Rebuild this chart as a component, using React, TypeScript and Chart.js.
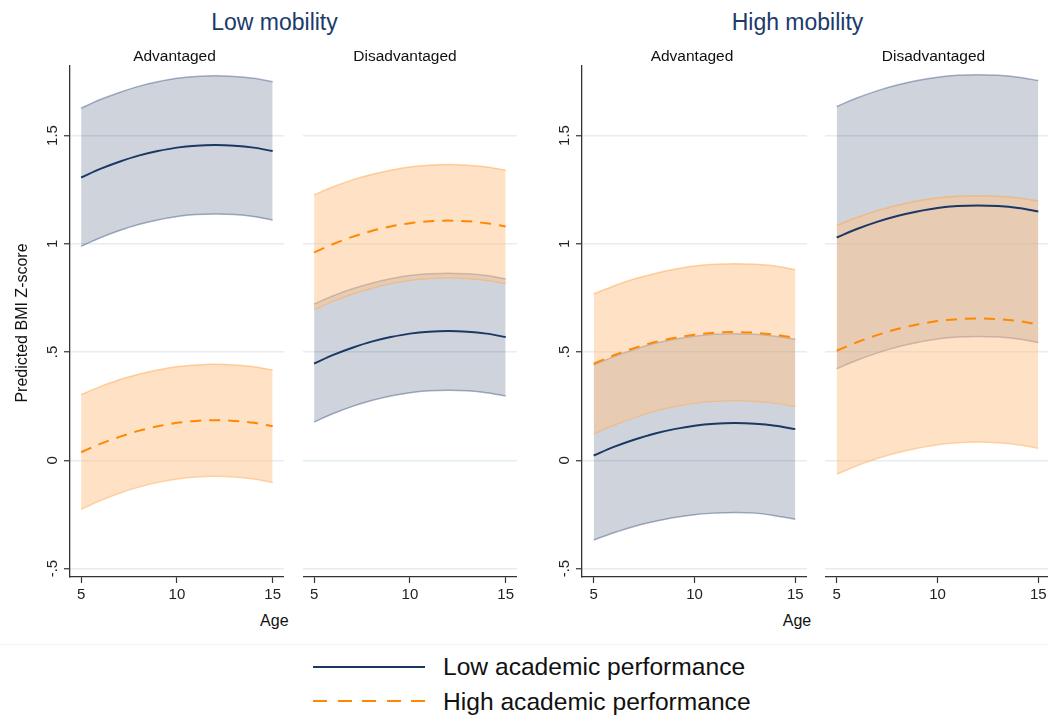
import React, { useEffect, useRef } from "react";
import { Chart, registerables } from "chart.js";

Chart.register(...registerables);

// ---------- data ----------
const AGES = [5, 6, 7, 8, 9, 10, 11, 12, 13, 14, 15];
const X_TICKS = [5, 10, 15];
const Y_TICKS = [-0.5, 0, 0.5, 1, 1.5];
const Y_TICK_LABELS = ["-.5", "0", ".5", "1", "1.5"];

const GROUP_TITLES = ["Low mobility", "High mobility"];
const PANEL_TITLES = ["Advantaged", "Disadvantaged", "Advantaged", "Disadvantaged"];
const SERIES_NAMES = ["Low academic performance", "High academic performance"];
const X_TITLE = "Age";
const Y_TITLE = "Predicted BMI Z-score";

// Low mobility – Advantaged
const LM_ADV_LOW_FIT = [1.306, 1.346, 1.379, 1.407, 1.428, 1.444, 1.453, 1.456, 1.453, 1.444, 1.428];
const LM_ADV_LOW_UB = [1.626, 1.666, 1.699, 1.727, 1.748, 1.764, 1.773, 1.776, 1.773, 1.764, 1.748];
const LM_ADV_LOW_LB = [0.988, 1.028, 1.061, 1.089, 1.11, 1.126, 1.135, 1.138, 1.135, 1.126, 1.11];
const LM_ADV_HIGH_FIT = [0.037, 0.076, 0.108, 0.136, 0.157, 0.173, 0.182, 0.185, 0.182, 0.173, 0.157];
const LM_ADV_HIGH_UB = [0.303, 0.34, 0.372, 0.397, 0.417, 0.432, 0.44, 0.443, 0.44, 0.432, 0.417];
const LM_ADV_HIGH_LB = [-0.226, -0.186, -0.152, -0.124, -0.102, -0.086, -0.077, -0.074, -0.077, -0.086, -0.102];

// Low mobility – Disadvantaged
const LM_DIS_LOW_FIT = [0.447, 0.487, 0.52, 0.548, 0.569, 0.585, 0.594, 0.597, 0.594, 0.585, 0.569];
const LM_DIS_LOW_UB = [0.722, 0.76, 0.792, 0.818, 0.838, 0.853, 0.861, 0.864, 0.861, 0.853, 0.838];
const LM_DIS_LOW_LB = [0.177, 0.216, 0.249, 0.276, 0.297, 0.312, 0.321, 0.324, 0.321, 0.312, 0.297];
const LM_DIS_HIGH_FIT = [0.96, 0.999, 1.032, 1.059, 1.08, 1.095, 1.104, 1.107, 1.104, 1.095, 1.08];
const LM_DIS_HIGH_UB = [1.226, 1.263, 1.295, 1.32, 1.34, 1.355, 1.363, 1.366, 1.363, 1.355, 1.34];
const LM_DIS_HIGH_LB = [0.695, 0.735, 0.768, 0.795, 0.816, 0.831, 0.84, 0.843, 0.84, 0.831, 0.816];

// High mobility – Advantaged
const HM_ADV_LOW_FIT = [0.022, 0.062, 0.095, 0.123, 0.144, 0.16, 0.169, 0.172, 0.169, 0.16, 0.144];
const HM_ADV_LOW_UB = [0.441, 0.479, 0.512, 0.539, 0.559, 0.573, 0.582, 0.585, 0.582, 0.573, 0.559];
const HM_ADV_LOW_LB = [-0.368, -0.335, -0.306, -0.283, -0.264, -0.251, -0.244, -0.241, -0.244, -0.256, -0.272];
const HM_ADV_HIGH_FIT = [0.446, 0.485, 0.518, 0.545, 0.565, 0.58, 0.589, 0.592, 0.589, 0.58, 0.565];
const HM_ADV_HIGH_UB = [0.768, 0.805, 0.837, 0.862, 0.882, 0.897, 0.905, 0.908, 0.905, 0.897, 0.88];
const HM_ADV_HIGH_LB = [0.122, 0.163, 0.197, 0.226, 0.248, 0.264, 0.273, 0.276, 0.273, 0.264, 0.248];

// High mobility – Disadvantaged
const HM_DIS_LOW_FIT = [1.029, 1.068, 1.101, 1.128, 1.149, 1.165, 1.174, 1.177, 1.174, 1.165, 1.149];
const HM_DIS_LOW_UB = [1.634, 1.673, 1.706, 1.733, 1.754, 1.769, 1.778, 1.781, 1.778, 1.769, 1.754];
const HM_DIS_LOW_LB = [0.423, 0.462, 0.495, 0.523, 0.544, 0.56, 0.569, 0.572, 0.569, 0.56, 0.544];
const HM_DIS_HIGH_FIT = [0.506, 0.545, 0.578, 0.606, 0.627, 0.643, 0.652, 0.655, 0.652, 0.643, 0.627];
const HM_DIS_HIGH_UB = [1.085, 1.121, 1.153, 1.177, 1.197, 1.211, 1.219, 1.222, 1.219, 1.211, 1.197];
const HM_DIS_HIGH_LB = [-0.064, -0.025, 0.008, 0.035, 0.056, 0.072, 0.081, 0.084, 0.081, 0.072, 0.056];

// ---------- style ----------
const FONT = '"Liberation Sans", Arial, Helvetica, sans-serif';
const NAVY = "rgb(26,56,100)";
const NAVY_FILL = "rgba(30,50,90,0.21)";
const NAVY_EDGE = "rgba(60,85,130,0.45)";
const ORANGE = "rgb(255,136,0)";
const ORANGE_FILL = "rgba(255,195,140,0.5)";
const ORANGE_EDGE = "rgba(255,160,60,0.45)";
const GRID = "#e3edf3";
const AXIS = "#333333";
const TITLE_COLOR = "#1b3a6b";

const X_MIN = 4.42;
const X_MAX = 15.58;
const Y_MIN = -0.539;
const Y_MAX = 1.821;

const TOP = 56;
const PAD_TOP = 10;
const AREA_H = 511;
const X_AXIS_H = 34;
const Y_AXIS_W = 60;

type PanelSeries = {
  lowFit: number[]; lowUb: number[]; lowLb: number[];
  highFit: number[]; highUb: number[]; highLb: number[];
};

const PANELS: { areaLeft: number; areaWidth: number; showY: boolean; s: PanelSeries }[] = [
  { areaLeft: 70, areaWidth: 214, showY: true, s: { lowFit: LM_ADV_LOW_FIT, lowUb: LM_ADV_LOW_UB, lowLb: LM_ADV_LOW_LB, highFit: LM_ADV_HIGH_FIT, highUb: LM_ADV_HIGH_UB, highLb: LM_ADV_HIGH_LB } },
  { areaLeft: 303, areaWidth: 214, showY: false, s: { lowFit: LM_DIS_LOW_FIT, lowUb: LM_DIS_LOW_UB, lowLb: LM_DIS_LOW_LB, highFit: LM_DIS_HIGH_FIT, highUb: LM_DIS_HIGH_UB, highLb: LM_DIS_HIGH_LB } },
  { areaLeft: 582, areaWidth: 225, showY: true, s: { lowFit: HM_ADV_LOW_FIT, lowUb: HM_ADV_LOW_UB, lowLb: HM_ADV_LOW_LB, highFit: HM_ADV_HIGH_FIT, highUb: HM_ADV_HIGH_UB, highLb: HM_ADV_HIGH_LB } },
  { areaLeft: 825, areaWidth: 225, showY: false, s: { lowFit: HM_DIS_LOW_FIT, lowUb: HM_DIS_LOW_UB, lowLb: HM_DIS_LOW_LB, highFit: HM_DIS_HIGH_FIT, highUb: HM_DIS_HIGH_UB, highLb: HM_DIS_HIGH_LB } },
];

const pts = (vals: number[]) => AGES.map((a, i) => ({ x: a, y: vals[i] }));

function Panel({ areaLeft, areaWidth, showY, s }: { areaLeft: number; areaWidth: number; showY: boolean; s: PanelSeries }) {
  const ref = useRef<HTMLCanvasElement | null>(null);
  const yw = showY ? Y_AXIS_W : 0;
  const width = yw + areaWidth;
  const height = PAD_TOP + AREA_H + X_AXIS_H;

  useEffect(() => {
    if (!ref.current) return;
    const yLabelPlugin = {
      id: "rotYLabels",
      afterDraw(chart: any) {
        if (!showY) return;
        const sc = chart.scales.y;
        const ctx = chart.ctx;
        ctx.save();
        ctx.fillStyle = "#222";
        ctx.font = `15px ${FONT}`;
        ctx.textAlign = "center";
        ctx.textBaseline = "middle";
        Y_TICKS.forEach((v, i) => {
          const py = sc.getPixelForValue(v);
          ctx.save();
          ctx.translate(sc.right - 18, py);
          ctx.rotate(-Math.PI / 2);
          ctx.fillText(Y_TICK_LABELS[i], 0, 1);
          ctx.restore();
        });
        ctx.restore();
      },
    };

    const band = (lb: number[], ub: number[], fill: string, edge: string, idx: number, order: number) => [
      { data: pts(lb), borderColor: edge, borderWidth: 1.5, backgroundColor: fill, fill: false, pointRadius: 0, cubicInterpolationMode: "monotone", order: order + 1 },
      { data: pts(ub), borderColor: edge, borderWidth: 1.5, backgroundColor: fill, fill: idx, pointRadius: 0, cubicInterpolationMode: "monotone", order },
    ];

    const chart = new Chart(ref.current, {
      type: "line",
      data: {
        datasets: [
          ...band(s.lowLb, s.lowUb, NAVY_FILL, NAVY_EDGE, 0, 6),
          ...band(s.highLb, s.highUb, ORANGE_FILL, ORANGE_EDGE, 2, 4),
          { data: pts(s.lowFit), borderColor: NAVY, borderWidth: 2, fill: false, pointRadius: 0, cubicInterpolationMode: "monotone", order: 1 },
          { data: pts(s.highFit), borderColor: ORANGE, borderWidth: 2, borderDash: [11, 8], fill: false, pointRadius: 0, cubicInterpolationMode: "monotone", order: 0 },
        ] as any,
      },
      options: {
        animation: false,
        responsive: false,
        devicePixelRatio: 1,
        layout: { padding: { top: PAD_TOP, left: 0, right: 0, bottom: 0 } },
        plugins: { legend: { display: false }, tooltip: { enabled: false }, title: { display: false } },
        scales: {
          x: {
            type: "linear",
            min: X_MIN,
            max: X_MAX,
            afterBuildTicks: (sc: any) => { sc.ticks = X_TICKS.map((v) => ({ value: v })); },
            afterFit: (sc: any) => { sc.height = X_AXIS_H; },
            ticks: { includeBounds: false, color: "#222", font: { family: FONT, size: 15 }, padding: 3, maxRotation: 0, minRotation: 0, callback: (v: any) => String(v) },
            grid: { drawOnChartArea: false, drawTicks: true, tickLength: 6, tickColor: AXIS, tickWidth: 1.2 },
            border: { display: true, color: AXIS, width: 1.3 },
          },
          y: {
            type: "linear",
            min: Y_MIN,
            max: Y_MAX,
            afterBuildTicks: (sc: any) => { sc.ticks = Y_TICKS.map((v) => ({ value: v })); },
            afterFit: (sc: any) => { sc.width = yw; },
            ticks: { display: false, includeBounds: false },
            grid: { drawOnChartArea: true, color: GRID, lineWidth: 1.5, drawTicks: showY, tickLength: showY ? 6 : 0, tickColor: AXIS, tickWidth: 1.2 },
            border: { display: showY, color: AXIS, width: 1.3 },
          },
        },
      } as any,
      plugins: [yLabelPlugin],
    });
    return () => chart.destroy();
  }, []);

  return (
    <canvas
      ref={ref}
      width={width}
      height={height}
      style={{ position: "absolute", left: areaLeft - yw, top: TOP, width, height }}
    />
  );
}

function Text({ text, cx, left, baseline, size, color = "#111" }: { text: string; cx?: number; left?: number; baseline: number; size: number; color?: string }) {
  const top = baseline - 0.8465 * size;
  const style: any = { position: "absolute", top, fontSize: size, lineHeight: `${size}px`, color, whiteSpace: "nowrap", fontFamily: FONT };
  if (cx !== undefined) {
    style.left = cx - 250;
    style.width = 500;
    style.textAlign = "center";
  } else {
    style.left = left;
  }
  return <div style={style}>{text}</div>;
}

export default function App() {
  return (
    <div style={{ position: "absolute", left: 0, top: 0, width: 1048, height: 716, overflow: "hidden", background: "#fff", fontFamily: FONT }}>
      {PANELS.map((p, i) => (
        <Panel key={i} {...p} />
      ))}
      <Text text={GROUP_TITLES[0]} cx={274.5} baseline={30.5} size={23} color={TITLE_COLOR} />
      <Text text={GROUP_TITLES[1]} cx={797.5} baseline={30.5} size={23} color={TITLE_COLOR} />
      <Text text={PANEL_TITLES[0]} cx={174.5} baseline={61.5} size={15.5} />
      <Text text={PANEL_TITLES[1]} cx={405} baseline={61.5} size={15.5} />
      <Text text={PANEL_TITLES[2]} cx={692} baseline={61.5} size={15.5} />
      <Text text={PANEL_TITLES[3]} cx={933.5} baseline={61.5} size={15.5} />
      <Text text={X_TITLE} cx={274.3} baseline={626.7} size={16} />
      <Text text={X_TITLE} cx={797} baseline={626.7} size={16} />
      <div
        style={{
          position: "absolute", left: 21.7 - 150, top: 323 - 10, width: 300, height: 20, lineHeight: "20px",
          textAlign: "center", fontSize: 16, color: "#111", transform: "rotate(-90deg)", whiteSpace: "nowrap",
        }}
      >
        {Y_TITLE}
      </div>
      <div style={{ position: "absolute", left: 0, top: 644, width: 1048, height: 1, background: "#f2f2f2" }} />
      <div style={{ position: "absolute", left: 313, top: 665.5, width: 112, height: 2.5, background: NAVY }} />
      <div
        style={{
          position: "absolute", left: 313, top: 699.8, width: 112, height: 2.5,
          background: `repeating-linear-gradient(90deg, ${ORANGE} 0px, ${ORANGE} 14px, transparent 14px, transparent 24.5px)`,
        }}
      />
      <Text text={SERIES_NAMES[0]} left={443} baseline={676} size={24.6} />
      <Text text={SERIES_NAMES[1]} left={443} baseline={710.7} size={24.6} />
    </div>
  );
}
